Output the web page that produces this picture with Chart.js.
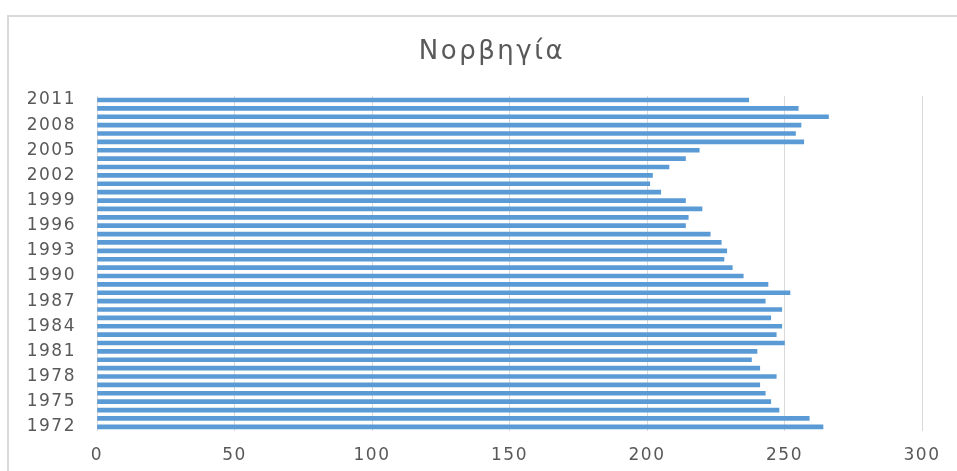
<!DOCTYPE html>
<html lang="el">
<head>
  <meta charset="UTF-8">
  <title>Νορβηγία</title>
  <script src="https://cdn.jsdelivr.net/npm/chart.js@4.4.0/dist/chart.umd.min.js"></script>
  <style>
    body {
      margin: 0;
      background: #fff;
      overflow: hidden;
    }
    .frame {
      position: absolute;
      left: 7px;
      top: 15px;
      width: 1000px;
      height: 500px;
      border-left: 2px solid #d9d9d9;
      border-top: 2px solid #d9d9d9;
    }
    #wrap {
      position: absolute;
      left: 0;
      top: 0;
      width: 957px;
      height: 471px;
    }
  </style>
</head>
<body>
  <div class="frame"></div>
  <div id="wrap"><canvas id="chart" width="957" height="471"></canvas></div>
  <script>
    // years from top (2011) to bottom (1972)
    const years = [
      2011, 2010, 2009, 2008, 2007, 2006, 2005, 2004, 2003, 2002,
      2001, 2000, 1999, 1998, 1997, 1996, 1995, 1994, 1993, 1992,
      1991, 1990, 1989, 1988, 1987, 1986, 1985, 1984, 1983, 1982,
      1981, 1980, 1979, 1978, 1977, 1976, 1975, 1974, 1973, 1972
    ];
    const values = [
      237, 255, 266, 256, 254, 257, 219, 214, 208, 202,
      201, 205, 214, 220, 215, 214, 223, 227, 229, 228,
      231, 235, 244, 252, 243, 249, 245, 249, 247, 250,
      240, 238, 241, 247, 241, 243, 245, 248, 259, 264
    ];
    const xTicks = [0, 50, 100, 150, 200, 250, 300];
    const titleText = 'Νορβηγία';

    const textColor = '#595959';
    const font = 'DejaVu Sans';

    // excel text looks a bit stretched, so add some letter spacing
    const spacing = {
      id: 'spacing',
      beforeLayout(chart) { chart.ctx.letterSpacing = '1.5px'; },
      beforeDraw(chart) { chart.ctx.letterSpacing = '1.5px'; },
      afterDraw(chart) {
        // title centred on the whole frame, not on the plot
        const ctx = chart.ctx;
        ctx.save();
        ctx.letterSpacing = '2.5px';
        ctx.font = `26px "${font}"`;
        ctx.fillStyle = textColor;
        ctx.textAlign = 'center';
        ctx.textBaseline = 'middle';
        ctx.fillText(titleText, 492, 52);
        ctx.restore();
      }
    };

    new Chart(document.getElementById('chart'), {
      type: 'bar',
      data: {
        labels: years.map(String),
        datasets: [{
          data: values,
          backgroundColor: '#5b9bd5',
          barThickness: 4
        }]
      },
      plugins: [spacing],
      options: {
        indexAxis: 'y',
        responsive: false,
        animation: false,
        layout: {
          padding: { left: 0, right: 35, top: 23, bottom: 0 }
        },
        plugins: {
          legend: { display: false },
          tooltip: { enabled: false },
          title: {
            // only keeps the space, text is drawn by the plugin above
            display: true,
            text: titleText,
            color: 'rgba(0,0,0,0)',
            font: { family: font, size: 24, weight: 'normal' },
            padding: { top: 14, bottom: 30 }
          }
        },
        scales: {
          x: {
            min: xTicks[0],
            max: xTicks[xTicks.length - 1],
            afterBuildTicks: (axis) => { axis.ticks = xTicks.map(v => ({ value: v })); },
            afterFit: (axis) => { axis.height = 40; },
            grid: { color: '#d9d9d9', drawTicks: false },
            border: { display: false },
            ticks: {
              color: textColor,
              font: { family: font, size: 17 },
              padding: 14
            }
          },
          y: {
            afterFit: (axis) => { axis.width = 97; },
            grid: { display: false, drawTicks: false },
            border: { display: false },
            ticks: {
              autoSkip: false,
              color: textColor,
              font: { family: font, size: 17 },
              padding: 21,
              callback: function (v, i) {
                const yr = years[i];
                return (yr - 1972) % 3 === 0 ? String(yr) : '';
              }
            }
          }
        }
      }
    });
  </script>
</body>
</html>
